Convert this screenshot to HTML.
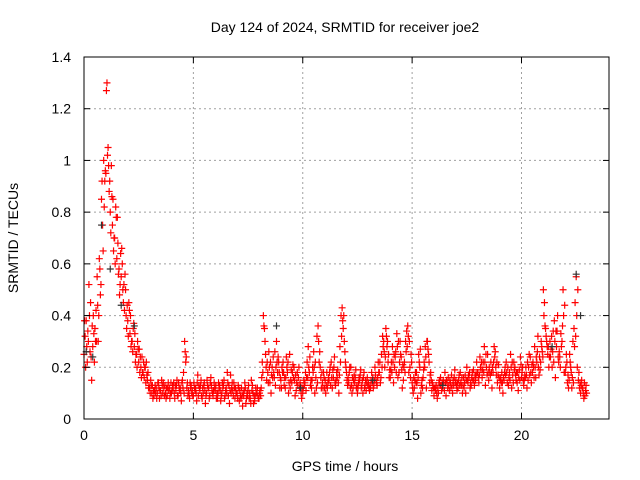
<!DOCTYPE html>
<html><head><meta charset="utf-8"><style>
body{margin:0;background:#fff}
svg{display:block;font-family:"Liberation Sans",sans-serif}
</style></head><body>
<svg id="chart" width="640" height="480" viewBox="0 0 640 480" xmlns="http://www.w3.org/2000/svg">
<rect width="640" height="480" fill="#fff"/>
<text x="345" y="32" font-size="14" text-anchor="middle">Day 124 of 2024, SRMTID for receiver joe2</text>
<text x="345" y="471" font-size="14" text-anchor="middle">GPS time / hours</text>
<text x="18" y="238" font-size="14" text-anchor="middle" transform="rotate(-90 18 238)">SRMTID / TECUs</text>
<g id="grid"></g><g id="marks"></g>
<rect x="84" y="57" width="525" height="362" fill="none" stroke="#000" stroke-width="1"/>
<g id="ticks"></g>
</svg>
<script>
const xTicks=[0,5,10,15,20];
const yTicks=[0,0.2,0.4,0.6,0.8,1,1.2,1.4];
const yTickLabels=["0","0.2","0.4","0.6","0.8","1","1.2","1.4"];
const seriesA=[
0.25,0.38,0.30,0.45,0.28,0.35,0.55,0.62,0.85,1.00,
0.95,1.05,0.80,0.75,0.70,0.62,0.58,0.55,0.45,0.50,
0.38,0.33,0.30,0.28,0.25,0.22,0.20,0.18,0.20,0.15,
0.12,0.10,0.09,0.12,0.14,0.11,0.10,0.13,0.09,0.12,
0.10,0.14,0.11,0.09,0.12,0.15,0.30,0.12,0.10,0.13,
0.09,0.12,0.17,0.11,0.08,0.14,0.10,0.12,0.16,0.09,
0.11,0.08,0.13,0.10,0.15,0.12,0.09,0.17,0.11,0.08,
0.10,0.07,0.12,0.09,0.06,0.11,0.08,0.13,0.07,0.10,
0.08,0.12,0.40,0.25,0.18,0.14,0.20,0.16,0.30,0.22,
0.15,0.22,0.12,0.18,0.25,0.14,0.20,0.11,0.16,0.13,
0.10,0.14,0.22,0.18,0.12,0.26,0.16,0.36,0.20,0.14,
0.12,0.18,0.15,0.22,0.16,0.13,0.19,0.28,0.43,0.30,
0.18,0.14,0.20,0.12,0.16,0.10,0.15,0.13,0.18,0.11,
0.14,0.12,0.16,0.20,0.13,0.18,0.25,0.30,0.35,0.22,
0.16,0.28,0.20,0.33,0.18,0.24,0.15,0.30,0.36,0.20,
0.14,0.12,0.18,0.25,0.10,0.16,0.28,0.30,0.14,0.11,
0.09,0.13,0.10,0.16,0.12,0.18,0.14,0.11,0.17,0.13,
0.15,0.12,0.18,0.10,0.14,0.20,0.16,0.13,0.19,0.15,
0.18,0.24,0.16,0.28,0.20,0.15,0.22,0.18,0.26,0.14,
0.12,0.18,0.15,0.22,0.13,0.25,0.17,0.20,0.14,0.19,
0.16,0.13,0.20,0.15,0.24,0.18,0.28,0.22,0.17,0.30,
0.50,0.35,0.25,0.30,0.20,0.38,0.28,0.22,0.33,0.50,
0.18,0.14,0.25,0.12,0.35,0.55,0.15,0.10,0.12,0.09];
const seriesB=[
0.32,0.22,0.40,0.15,0.33,0.42,0.30,0.48,0.75,0.92,
1.30,0.88,0.98,0.65,0.82,0.68,0.52,0.60,0.42,0.35,
0.45,0.28,0.35,0.22,0.30,0.18,0.24,0.16,0.22,0.12,
0.15,0.08,0.13,0.10,0.08,0.15,0.12,0.08,0.14,0.10,
0.13,0.08,0.15,0.12,0.07,0.18,0.22,0.09,0.14,0.11,
0.12,0.07,0.13,0.15,0.10,0.06,0.13,0.09,0.11,0.14,
0.08,0.14,0.07,0.12,0.09,0.18,0.06,0.12,0.14,0.10,
0.13,0.09,0.05,0.14,0.10,0.08,0.15,0.06,0.12,0.09,
0.11,0.22,0.35,0.15,0.26,0.10,0.24,0.13,0.18,0.12,
0.20,0.13,0.24,0.10,0.15,0.21,0.09,0.18,0.12,0.08,
0.15,0.11,0.28,0.13,0.20,0.10,0.32,0.22,0.12,0.18,
0.10,0.14,0.20,0.12,0.24,0.18,0.10,0.40,0.35,0.22,
0.13,0.20,0.10,0.17,0.12,0.14,0.19,0.10,0.13,0.16,
0.11,0.18,0.13,0.15,0.22,0.14,0.32,0.20,0.28,0.16,
0.22,0.14,0.26,0.16,0.30,0.12,0.22,0.34,0.18,0.25,
0.10,0.18,0.08,0.20,0.15,0.22,0.12,0.25,0.18,0.13,
0.12,0.08,0.15,0.11,0.14,0.09,0.16,0.14,0.10,0.19,
0.11,0.17,0.13,0.16,0.10,0.14,0.12,0.18,0.13,0.22,
0.14,0.19,0.22,0.13,0.25,0.18,0.12,0.28,0.17,0.21,
0.16,0.10,0.20,0.14,0.18,0.12,0.22,0.15,0.11,0.24,
0.20,0.17,0.12,0.25,0.14,0.20,0.16,0.32,0.19,0.26,
0.45,0.30,0.20,0.27,0.34,0.16,0.40,0.24,0.30,0.18,
0.25,0.12,0.20,0.30,0.45,0.20,0.12,0.15,0.08,0.13];
const seriesC=[
0.38,0.28,0.52,0.24,0.40,0.30,0.44,0.58,0.92,0.82,
1.27,0.98,0.72,0.85,0.60,0.78,0.48,0.66,0.52,0.40,
0.32,0.40,0.26,0.33,0.20,0.27,0.16,0.22,0.14,0.18,
0.10,0.13,0.11,0.08,0.12,0.09,0.14,0.10,0.12,0.08,
0.11,0.10,0.13,0.14,0.10,0.12,0.26,0.14,0.08,0.10,
0.14,0.10,0.09,0.13,0.12,0.11,0.15,0.08,0.13,0.11,
0.13,0.10,0.11,0.14,0.08,0.10,0.13,0.10,0.09,0.12,
0.08,0.11,0.09,0.11,0.08,0.13,0.06,0.10,0.09,0.12,
0.10,0.16,0.36,0.20,0.14,0.22,0.16,0.26,0.22,0.18,
0.12,0.18,0.16,0.22,0.12,0.18,0.15,0.14,0.20,0.10,
0.12,0.18,0.16,0.24,0.15,0.20,0.12,0.30,0.16,0.12,
0.15,0.12,0.18,0.16,0.20,0.15,0.14,0.22,0.38,0.26,
0.15,0.18,0.13,0.15,0.19,0.12,0.17,0.15,0.12,0.14,
0.12,0.15,0.12,0.17,0.16,0.22,0.20,0.26,0.32,0.25,
0.19,0.22,0.24,0.28,0.22,0.19,0.20,0.26,0.32,0.16,
0.12,0.15,0.14,0.22,0.13,0.19,0.24,0.27,0.17,0.14,
0.12,0.10,0.14,0.13,0.15,0.14,0.12,0.15,0.13,0.16,
0.13,0.15,0.14,0.13,0.17,0.15,0.18,0.16,0.15,0.17,
0.16,0.20,0.19,0.22,0.17,0.20,0.18,0.22,0.20,0.17,
0.15,0.14,0.18,0.18,0.16,0.20,0.14,0.17,0.18,0.15,
0.18,0.15,0.17,0.20,0.18,0.22,0.20,0.26,0.24,0.28,
0.40,0.32,0.28,0.24,0.26,0.30,0.34,0.26,0.28,0.40,
0.20,0.17,0.22,0.16,0.28,0.40,0.18,0.13,0.10,0.11];
const seriesD=[
0.20,0.34,0.26,0.36,0.22,0.30,0.40,0.52,0.65,0.96,
1.02,0.92,0.86,0.70,0.78,0.56,0.64,0.50,0.56,0.44,
0.42,0.30,0.37,0.25,0.27,0.24,0.18,0.20,0.17,0.13,
0.13,0.11,0.10,0.14,0.11,0.13,0.09,0.12,0.11,0.14,
0.12,0.13,0.09,0.11,0.14,0.10,0.24,0.11,0.12,0.09,
0.11,0.14,0.12,0.09,0.13,0.09,0.12,0.14,0.10,0.12,
0.10,0.12,0.09,0.13,0.11,0.14,0.11,0.14,0.12,0.10,
0.12,0.08,0.10,0.12,0.09,0.10,0.11,0.09,0.10,0.08,
0.09,0.18,0.30,0.22,0.20,0.17,0.18,0.20,0.24,0.16,
0.18,0.16,0.20,0.14,0.19,0.16,0.17,0.13,0.14,0.12,
0.13,0.16,0.20,0.15,0.18,0.22,0.14,0.26,0.18,0.16,
0.13,0.16,0.13,0.19,0.14,0.16,0.17,0.32,0.40,0.20,
0.16,0.12,0.16,0.14,0.13,0.16,0.12,0.16,0.15,0.13,
0.13,0.14,0.15,0.14,0.18,0.16,0.28,0.24,0.30,0.19,
0.18,0.25,0.18,0.30,0.25,0.21,0.18,0.28,0.30,0.22,
0.16,0.14,0.16,0.27,0.12,0.20,0.30,0.22,0.15,0.12,
0.11,0.12,0.13,0.14,0.11,0.15,0.13,0.12,0.15,0.14,
0.14,0.13,0.16,0.12,0.15,0.17,0.14,0.15,0.17,0.18,
0.17,0.22,0.18,0.25,0.18,0.17,0.20,0.24,0.22,0.16,
0.14,0.16,0.17,0.20,0.15,0.22,0.19,0.18,0.16,0.21,
0.15,0.16,0.22,0.17,0.21,0.16,0.24,0.20,0.22,0.24,
0.36,0.28,0.24,0.32,0.22,0.34,0.24,0.20,0.36,0.44,
0.22,0.15,0.18,0.14,0.32,0.50,0.14,0.12,0.14,0.10];
const darkTimes=[0.1,0.4,0.8,1.2,1.7,2.3,8.8,9.9,13.2,16.4,21.4,22.5,22.7];
const darkValues=[0.26,0.24,0.75,0.58,0.44,0.36,0.36,0.12,0.15,0.13,0.28,0.56,0.40];

const NS="http://www.w3.org/2000/svg";
const X0=84,X1=609,Y0=419,Y1=57,XMAX=24,YMAX=1.4;
function xs(v){return X0+(X1-X0)*v/XMAX;}
function ys(v){return Y0-(Y0-Y1)*v/YMAX;}
function mk(tag,attrs,parent){const e=document.createElementNS(NS,tag);for(const k in attrs)e.setAttribute(k,attrs[k]);parent.appendChild(e);return e;}
const grid=document.getElementById('grid'),marks=document.getElementById('marks'),ticks=document.getElementById('ticks');
xTicks.forEach(t=>{
  const x=xs(t);
  if(t>0){const g=mk('line',{x1:x,x2:x,y1:Y1,y2:Y0,stroke:'#a0a0a0','stroke-dasharray':'2,3'},grid);
  
  }
  mk('line',{x1:x,x2:x,y1:Y0,y2:Y0-6,stroke:'#000'},ticks);
  mk('line',{x1:x,x2:x,y1:Y1,y2:Y1+6,stroke:'#000'},ticks);
  const l=mk('text',{x:x,y:Y0+21,'font-size':14,'text-anchor':'middle'},ticks);l.textContent=t;
  
  
});
yTicks.forEach((t,i)=>{
  const y=ys(t);
  if(t>0&&t<1.4){const g=mk('line',{x1:X0,x2:X1,y1:y,y2:y,stroke:'#a0a0a0','stroke-dasharray':'2,3'},grid);
  
  }
  mk('line',{x1:X0,x2:X0+6,y1:y,y2:y,stroke:'#000'},ticks);
  mk('line',{x1:X1,x2:X1-6,y1:y,y2:y,stroke:'#000'},ticks);
  const l=mk('text',{x:X0-13,y:y+5,'font-size':14,'text-anchor':'end'},ticks);l.textContent=yTickLabels[i];
  
  
});
function plus(t,v,color){
  const x=xs(t),y=ys(v);
  const p=mk('path',{d:`M${x-3.5},${y}H${x+3.5}M${x},${y-3.5}V${y+3.5}`,stroke:color,'stroke-width':1.2,fill:'none'},marks);
  
  
}
seriesA.forEach((v,i)=>plus(i*0.1,v,'#ff0000'));
seriesB.forEach((v,i)=>plus(i*0.1+0.05,v,'#ff0000'));
seriesC.forEach((v,i)=>plus(i*0.1+0.025,v,'#ff0000'));
seriesD.forEach((v,i)=>plus(i*0.1+0.075,v,'#ff0000'));
darkTimes.forEach((t,i)=>plus(t,darkValues[i],'#333333'));
</script>
</body></html>
